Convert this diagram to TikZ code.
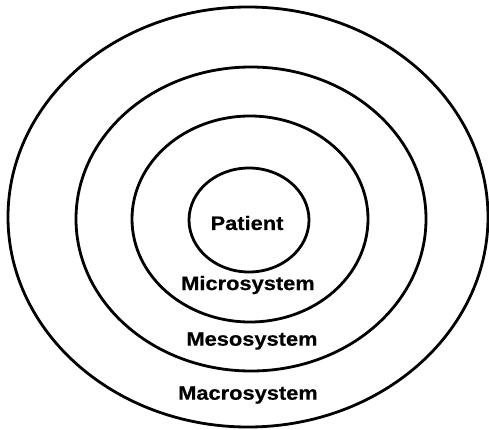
\documentclass[tikz,border=0pt]{standalone}
\usepackage{fontspec}
\newfontfamily\ringfont[FakeStretch=1.12,FakeBold=0.6]{Liberation Sans}
\usetikzlibrary{positioning,shapes.geometric}

\begin{document}
\begin{tikzpicture}[
  x=1pt, y=-1pt,
  ring/.style={draw, ellipse, line width=2.8pt, inner sep=0pt},
  label/.style={font=\ringfont\bfseries\fontsize{19.5}{22}\selectfont, inner sep=0pt}
]
\useasboundingbox (0,0) rectangle (489,430);

% nested rings, outer to inner
\node[ring, minimum width=480pt, minimum height=420pt] (macro) at (248,217) {};
\node[ring, minimum width=350pt, minimum height=304pt] (meso)  at (251,219) {};
\node[ring, minimum width=236pt, minimum height=206pt] (micro) at (250,219) {};
\node[ring, minimum width=120pt, minimum height=104pt] (pat)   at (249,220) {};

\node[label] (patlbl)   at (247,223) {Patient};
\node[label] (microlbl) at (248,285) {Microsystem};
\node[label] (mesolbl)  at (252,341) {Mesosystem};
\node[label] (macrolbl) at (248,395) {Macrosystem};
\end{tikzpicture}
\end{document}
